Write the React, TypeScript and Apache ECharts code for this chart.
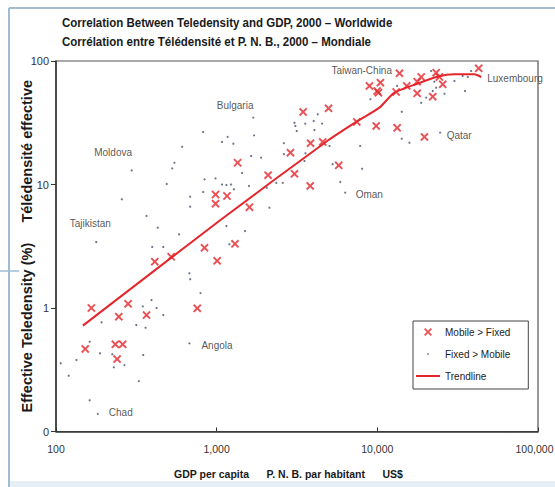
import React, { useEffect, useRef } from 'react';
import * as echarts from 'echarts';

const titleLines = [
  'Correlation Between Teledensity and GDP, 2000 – Worldwide',
  'Corrélation entre Télédensité et P. N. B., 2000 – Mondiale',
];
const xAxisName = 'GDP per capita      P. N. B. par habitant      US$';
const yAxisName = 'Effective Teledensity (%)     Télédensité effective';
const seriesNames = ['Mobile > Fixed', 'Fixed > Mobile', 'Trendline'];
const xRange = [100, 100000];
const yRange = [0.1, 100];

// [GDP per capita US$, effective teledensity %]
const mobileGtFixed: [number, number][] = [
  [984, 8.3], [984, 7.0], [840, 3.07], [3450, 38.7], [4970, 41.4], [2880, 18.1],
  [3840, 21.6], [4570, 22.1], [1350, 15.0], [2090, 11.9], [3050, 12.2], [5750, 14.3],
  [3820, 9.73], [7450, 32.1], [1160, 8.07], [1600, 6.55], [1300, 3.31], [8930, 62.8],
  [9980, 57.1], [9840, 29.8], [13740, 79.5], [10450, 66.7], [10160, 55.4], [13100, 56.1],
  [15240, 62.8], [17700, 68.0], [18750, 74.2], [23230, 80.4], [24330, 74.2], [25530, 64.8],
  [17700, 54.7], [22130, 51.4], [42760, 87.3], [13280, 28.8], [19640, 24.3], [412, 2.37],
  [521, 2.6], [1007, 2.41], [757, 0.995], [166, 1.0], [281, 1.08], [246, 0.851],
  [366, 0.877], [152, 0.466], [234, 0.508], [260, 0.508], [240, 0.386],
];

const fixedGtMobile: [number, number][] = [
  [824, 26.6], [610, 20.2], [546, 15.0], [529, 13.5], [296, 13.0], [489, 10.1],
  [840, 11.0], [984, 11.2], [824, 8.7], [684, 7.96], [684, 6.61], [257, 7.59],
  [366, 5.56], [430, 4.47], [584, 3.95], [178, 3.42], [397, 3.12], [465, 3.12],
  [3050, 31.6], [3090, 29.8], [3560, 31.1], [4020, 32.7], [4530, 31.1], [4260, 37.0],
  [4060, 27.6], [3150, 27.1], [1690, 34.8], [1710, 25.0], [1080, 22.1], [1170, 24.3],
  [1270, 21.4], [2620, 21.6], [5040, 20.5], [1640, 17.0], [1890, 16.5], [2620, 17.6],
  [3520, 15.5], [3570, 17.9], [5270, 14.6], [2350, 10.3], [2580, 10.3], [2050, 9.42],
  [5880, 10.5], [6310, 8.59], [7820, 20.5], [8040, 13.4], [1080, 10.0], [1150, 9.9],
  [1230, 10.0], [1280, 9.14], [1590, 9.73], [1440, 12.4], [2130, 6.49], [1500, 4.2],
  [1150, 4.61], [1200, 3.28], [9060, 49.0], [13280, 62.8], [21630, 83], [22650, 68.0],
  [23230, 60.8], [22130, 57.1], [26180, 54.3], [18750, 45.9], [20140, 50.5], [30200, 68.9],
  [33960, 75.7], [35160, 57.1], [38370, 83], [36560, 74.2], [14190, 38.8], [14190, 23.5],
  [15850, 21.8], [24600, 26.3], [677, 1.91], [684, 1.71], [793, 1.32], [347, 1.03],
  [393, 1.16], [422, 1.0], [465, 0.877], [361, 0.692], [316, 0.728], [192, 0.766],
  [162, 0.533], [188, 0.43], [224, 0.422], [229, 0.331], [267, 0.345], [349, 0.416],
  [328, 0.256], [134, 0.379], [107, 0.357], [120, 0.283], [162, 0.179], [182, 0.139],
  [677, 0.517],
];

const trendline: [number, number][] = [
  [147, 0.72], [1056, 5.16], [4690, 21.7], [7550, 32.7], [10300, 41.9], [12770, 55.4],
  [17700, 65.5], [23660, 74.6], [30200, 78.0], [40200, 78.0], [44300, 74.2],
];

const countryNames = ['Moldova', 'Tajikistan', 'Bulgaria', 'Taiwan-China', 'Luxembourg', 'Qatar', 'Oman', 'Angola', 'Chad'];
const countryPoints: [number, number][] = [
  [296, 13.0], [178, 3.42], [1690, 34.8], [13740, 79.5], [42760, 87.3], [24600, 26.3], [6310, 8.59], [677, 0.517], [182, 0.139],
];

// label placement (style only): side and pixel offset
const labelStyle: Record<string, { side: 'left' | 'right'; offset: [number, number] }> = {
  Moldova: { side: 'right', offset: [-38, -18] },
  Tajikistan: { side: 'right', offset: [-27, -19] },
  Bulgaria: { side: 'right', offset: [-37, -12] },
  'Taiwan-China': { side: 'left', offset: [-7, -3] },
  Luxembourg: { side: 'right', offset: [8, 10] },
  Qatar: { side: 'right', offset: [6, 3] },
  Oman: { side: 'right', offset: [10, 1.5] },
  Angola: { side: 'right', offset: [11.5, 2.5] },
  Chad: { side: 'right', offset: [10.5, -1.5] },
};

const FONT = "'Liberation Sans', Arial, Helvetica, sans-serif";
const RED = '#e5262b';
const DOT = '#46536e';
const FRAME = '#9ebcd2';
const X_PATH = 'path://M0,1.6L1.6,0L5,3.4L8.4,0L10,1.6L6.6,5L10,8.4L8.4,10L5,6.6L1.6,10L0,8.4L3.4,5Z';
const DOT_ICON = 'path://M0,0M10,10M4,4L6,4L6,6L4,6Z';
const LINE_ICON = 'path://M0,0L24,0L24,2L0,2Z';

export default function App() {
  const ref = useRef<HTMLDivElement>(null);
  useEffect(() => {
    document.body.style.margin = '0';
    const chart = echarts.init(ref.current as HTMLDivElement, undefined, { renderer: 'svg' });
    const option: any = {
      animation: false,
      backgroundColor: '#ffffff',
      grid: {
        left: 56,
        right: 17,
        top: 61,
        bottom: 55.5,
        outerBoundsMode: 'none',
        show: true,
        borderColor: '#555',
        borderWidth: 1.2,
        backgroundColor: 'transparent',
      },
      legend: {
        data: [
          { name: seriesNames[0], icon: X_PATH },
          { name: seriesNames[1], icon: DOT_ICON },
          { name: seriesNames[2], icon: LINE_ICON },
        ],
        orient: 'vertical',
        left: 413,
        top: 321,
        itemWidth: 24,
        itemHeight: 8,
        itemGap: 12,
        padding: [6, 18, 8, 3],
        borderColor: '#444',
        borderWidth: 1,
        backgroundColor: '#fff',
        selectedMode: false,
        textStyle: { fontFamily: FONT, fontSize: 10, color: '#222' },
      },
      xAxis: {
        type: 'log',
        logBase: 10,
        min: xRange[0],
        max: xRange[1],
        name: xAxisName,
        nameLocation: 'middle',
        nameGap: 37,
        nameMoveOverlap: false,
        nameTextStyle: {
          fontFamily: FONT,
          fontWeight: 'bold',
          fontSize: 10.5,
          color: '#1a1a1a',
          padding: [0, 17, 0, 0],
        },
        axisLine: { show: true, lineStyle: { color: '#333', width: 1.5 } },
        axisTick: { show: true, inside: true, length: 4, lineStyle: { color: '#333' } },
        axisLabel: {
          fontFamily: FONT,
          fontSize: 10.5,
          color: '#333',
          margin: 12,
          showMinLabel: true,
          showMaxLabel: true,
          formatter: (v: number) => {
            const s = Math.round(v).toLocaleString('en-US');
            return v >= xRange[1] * 0.99 ? '{last|' + s + '}' : s;
          },
          rich: {
            last: { fontFamily: FONT, fontSize: 10.5, color: '#333', padding: [0, 7, 0, 0] },
          },
        },
        splitLine: { show: false },
      },
      yAxis: {
        type: 'log',
        logBase: 10,
        min: yRange[0],
        max: yRange[1],
        name: yAxisName,
        nameLocation: 'middle',
        nameGap: 22,
        nameMoveOverlap: false,
        nameTextStyle: {
          fontFamily: FONT,
          fontWeight: 'bold',
          fontSize: 14.5,
          color: '#1a1a1a',
        },
        axisLine: { show: true, lineStyle: { color: '#333', width: 1.5 } },
        axisTick: { show: true, inside: false, length: 5, lineStyle: { color: '#333' } },
        axisLabel: {
          fontFamily: FONT,
          fontSize: 11,
          color: '#333',
          margin: 7,
          formatter: (v: number) => (v < 0.5 ? '0' : String(Math.round(v))),
        },
        splitLine: { show: false },
      },
      graphic: [
        { type: 'line', silent: true, shape: { x1: 9, y1: 8, x2: 555, y2: 8 }, style: { stroke: FRAME, lineWidth: 2 } },
        { type: 'line', silent: true, shape: { x1: 9, y1: 8, x2: 9, y2: 487 }, style: { stroke: FRAME, lineWidth: 2 } },
        { type: 'line', silent: true, shape: { x1: 0, y1: 271, x2: 19, y2: 271 }, style: { stroke: FRAME, lineWidth: 1.5 } },
        { type: 'rect', silent: true, shape: { x: 10, y: 481, width: 545, height: 6 }, style: { fill: '#e6eff5' } },
        {
          type: 'text',
          silent: true,
          x: 62,
          y: 14,
          scaleX: 0.885,
          style: {
            text: titleLines.join('\n'),
            fontFamily: FONT,
            fontWeight: 'bold',
            fontSize: 13,
            lineHeight: 18.5,
            fill: '#1a1a1a',
            verticalAlign: 'top',
          },
        },
      ],
      series: [
        {
          name: seriesNames[1],
          type: 'scatter',
          symbol: 'circle',
          symbolSize: 2.2,
          itemStyle: { color: DOT },
          data: fixedGtMobile,
          z: 2,
        },
        {
          name: seriesNames[2],
          type: 'line',
          symbol: 'none',
          showSymbol: false,
          smooth: 0.2,
          lineStyle: { color: RED, width: 2 },
          itemStyle: { color: RED },
          data: trendline,
          z: 3,
        },
        {
          name: seriesNames[0],
          type: 'scatter',
          symbol: X_PATH,
          symbolSize: 8.5,
          itemStyle: { color: RED },
          data: mobileGtFixed,
          z: 4,
        },
        {
          name: 'labels',
          type: 'scatter',
          symbol: 'circle',
          symbolSize: 1,
          silent: true,
          itemStyle: { color: 'transparent' },
          z: 5,
          data: countryNames.map((n, i) => ({
            value: countryPoints[i],
            label: {
              show: true,
              formatter: n,
              position: labelStyle[n].side,
              distance: 0,
              offset: labelStyle[n].offset,
              fontFamily: FONT,
              fontSize: 10,
              color: '#2a2a2a',
            },
          })),
        },
      ],
    };
    chart.setOption(option);
    return () => chart.dispose();
  }, []);
  return <div ref={ref} style={{ width: 555, height: 487 }} />;
}
